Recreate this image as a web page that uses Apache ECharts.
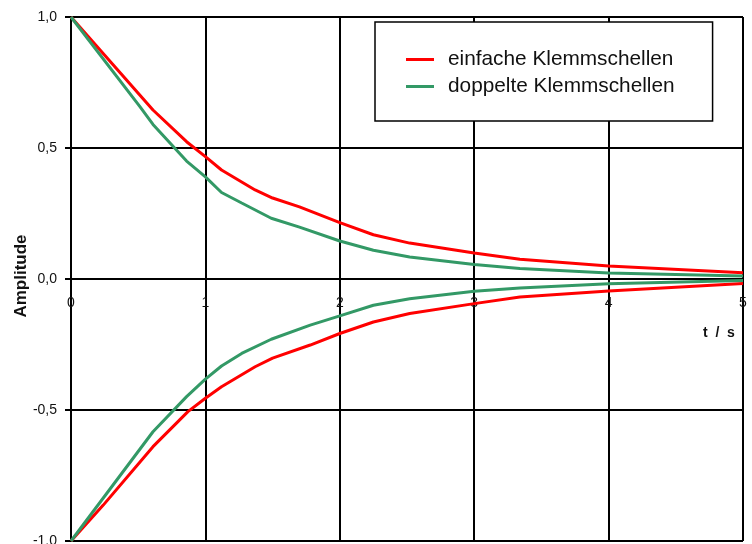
<!DOCTYPE html>
<html>
<head>
<meta charset="utf-8">
<script src="https://cdn.jsdelivr.net/npm/echarts@6/dist/echarts.min.js"></script>
<style>
  html, body { margin: 0; padding: 0; background: #fff; }
  #chart { width: 752px; height: 544px; }
</style>
</head>
<body>
<div id="chart"></div>
<script>
// Decay envelopes of the oscillation amplitude, [t in s, amplitude]
const einfacheOben = [[0,1],[0.31,0.82],[0.61,0.645],[0.86,0.524],[1,0.467],[1.12,0.416],[1.37,0.34],[1.5,0.309],[1.7,0.275],[2,0.215],[2.25,0.169],[2.52,0.137],[3,0.099],[3.34,0.075],[4,0.05],[5,0.024]];
const einfacheUnten = [[0,-1],[0.24,-0.863],[0.61,-0.64],[0.87,-0.506],[1,-0.455],[1.12,-0.411],[1.37,-0.335],[1.5,-0.302],[1.78,-0.252],[2,-0.208],[2.25,-0.164],[2.52,-0.132],[3,-0.094],[3.34,-0.069],[4,-0.046],[5,-0.017]];
const doppelteOben = [[0,1],[0.51,0.66],[0.61,0.59],[0.86,0.45],[1,0.39],[1.12,0.33],[1.27,0.29],[1.49,0.232],[1.7,0.198],[2,0.145],[2.25,0.11],[2.52,0.084],[3,0.055],[3.34,0.04],[4,0.023],[5,0.011]];
const doppelteUnten = [[0,-1],[0.61,-0.583],[0.86,-0.449],[1,-0.382],[1.12,-0.332],[1.27,-0.284],[1.49,-0.23],[1.78,-0.176],[2,-0.141],[2.25,-0.1],[2.52,-0.075],[3,-0.047],[3.34,-0.034],[4,-0.018],[5,-0.006]];

const seriesNames = ['einfache Klemmschellen', 'doppelte Klemmschellen'];
const seriesColors = ['#ff0000', '#339966'];

const FONT = 'Liberation Sans, Arial, sans-serif';

const chart = echarts.init(document.getElementById('chart'), null, { renderer: 'canvas' });

function envelope(name, color, data) {
  return {
    name: name,
    type: 'line',
    xAxisIndex: 0,
    yAxisIndex: 0,
    data: data,
    showSymbol: false,
    symbol: 'none',
    lineStyle: { color: color, width: 3 },
    itemStyle: { color: color },
    animation: false,
    z: 3
  };
}

chart.setOption({
  animation: false,
  backgroundColor: '#ffffff',
  grid: [
    // main plot area
    { left: 71, right: 9, top: 17, bottom: 3, containLabel: false, outerBoundsMode: 'none' },
    // upper half only: its bottom edge sits on the zero line and carries the time labels
    { left: 71, right: 9, top: 17, height: 262, containLabel: false, outerBoundsMode: 'none' }
  ],
  legend: {
    data: seriesNames,
    orient: 'vertical',
    left: 375,
    top: 22,
    padding: [27, 38, 24, 31],
    itemGap: 6,
    itemWidth: 28,
    itemHeight: 3,
    backgroundColor: '#ffffff',
    borderColor: '#000000',
    borderWidth: 1.5,
    icon: 'rect',
    textStyle: { fontFamily: FONT, fontSize: 20.8, color: '#111111', padding: [0, 0, 0, 9] }
  },
  xAxis: [
    {
      type: 'value',
      gridIndex: 0,
      min: 0,
      max: 5,
      interval: 1,
      axisLine: { onZero: true, lineStyle: { color: '#000', width: 2 } },
      axisTick: { show: false },
      axisLabel: { show: false },
      splitLine: { show: true, lineStyle: { color: '#000', width: 2 } }
    },
    {
      type: 'value',
      gridIndex: 1,
      min: 0,
      max: 5,
      interval: 1,
      axisLine: { show: false, onZero: false },
      axisTick: { show: false },
      splitLine: { show: false },
      axisLabel: {
        fontFamily: FONT,
        fontSize: 14,
        color: '#111',
        margin: 17
      }
    }
  ],
  yAxis: [
    {
      type: 'value',
      gridIndex: 0,
      min: -1,
      max: 1,
      interval: 0.5,
      axisLine: { show: true, lineStyle: { color: '#000', width: 2 } },
      axisTick: { show: true, length: 6, lineStyle: { color: '#000', width: 2 } },
      splitLine: { show: true, lineStyle: { color: '#000', width: 2 } },
      axisLabel: {
        fontFamily: FONT,
        fontSize: 14,
        color: '#111',
        margin: 14,
        formatter: v => v.toFixed(1).replace('.', ',')
      }
    },
    {
      type: 'value',
      gridIndex: 1,
      min: 0,
      max: 1,
      show: false
    }
  ],
  graphic: [
    {
      type: 'text',
      left: 703,
      top: 326,
      style: { text: 't  /  s', font: 'bold 14px ' + FONT, fill: '#111' }
    },
    {
      type: 'text',
      x: 21,
      y: 276,
      rotation: Math.PI / 2,
      style: { text: 'Amplitude', font: 'bold 17px ' + FONT, fill: '#111', align: 'center', verticalAlign: 'middle' }
    }
  ],
  series: [
    envelope(seriesNames[0], seriesColors[0], einfacheOben),
    envelope(seriesNames[1], seriesColors[1], doppelteOben),
    envelope(seriesNames[0], seriesColors[0], einfacheUnten),
    envelope(seriesNames[1], seriesColors[1], doppelteUnten)
  ]
});
</script>
</body>
</html>
